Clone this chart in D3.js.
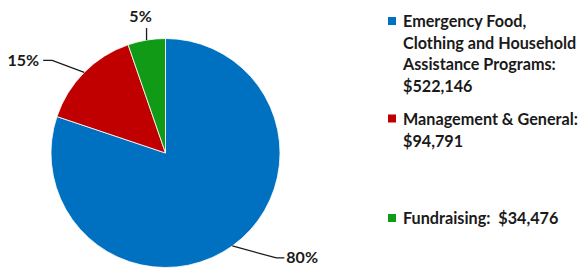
<!DOCTYPE html>
<html><head><meta charset="utf-8">
<script src="https://cdn.jsdelivr.net/npm/d3@7"></script>
<style>body{margin:0;background:#fff}svg{display:block}</style>
</head><body>
<svg id="c" width="587" height="270"></svg>
<script>
const categories = ["Emergency Food, Clothing and Household Assistance Programs", "Management & General", "Fundraising"];
const values = [522146, 94791, 34476];
const percentLabels = ["80%", "15%", "5%"];
const legendLines = [
  ["Emergency Food,", "Clothing and Household", "Assistance Programs:", "$522,146"],
  ["Management & General:", "$94,791"],
  ["Fundraising:  $34,476"]
];
const colors = ["#0070C0", "#C00000", "#119A15"];

const svg = d3.select("#c");
const cx = 165.5, cy = 153, R = 114.5;
const g = svg.append("g").attr("transform", `translate(${cx},${cy})`);
const pie = d3.pie().sort(null).value(d => d)(values);
const arc = d3.arc().innerRadius(0).outerRadius(R);
g.selectAll("path").data(pie).join("path")
  .attr("d", arc).attr("fill", (d, i) => colors[i])
  .attr("stroke", "#fff").attr("stroke-width", 0.8);

const txt = "#1a1a1a";
const font = "Lato, 'Open Sans', sans-serif";
// leader lines + labels
pie.forEach((d, i) => {
  const a = (d.startAngle + d.endAngle) / 2;
  const p0 = [Math.sin(a) * R, -Math.cos(a) * R];
  let pts, tx, ty, anchor;
  if (i === 0) { pts = [p0, [p0[0] + 44, p0[1] + 12], [p0[0] + 52, p0[1] + 12]]; tx = p0[0] + 54; ty = p0[1] + 17.5; anchor = "start"; }
  else if (i === 1) { pts = [p0, [p0[0] - 32, p0[1] - 12], [p0[0] - 41, p0[1] - 12]]; tx = p0[0] - 45; ty = p0[1] - 6.5; anchor = "end"; }
  else { pts = [p0, [p0[0], p0[1] - 12]]; tx = p0[0] - 6; ty = p0[1] - 18.5; anchor = "middle"; }
  g.append("path").attr("d", d3.line()(pts)).attr("fill", "none").attr("stroke", txt).attr("stroke-width", 1.3);
  g.append("text").attr("x", tx).attr("y", ty).attr("text-anchor", anchor)
    .attr("font-family", font).attr("font-weight", 700).attr("font-size", 16).attr("fill", txt)
    .text(percentLabels[i]);
});

// legend
const legendTop = [27, 124.5, 224];
legendLines.forEach((lines, i) => {
  const lg = svg.append("g");
  lg.append("rect").attr("x", 388).attr("y", legendTop[i] - 10).attr("width", 8).attr("height", 8).attr("fill", colors[i]);
  lines.forEach((t, j) => {
    lg.append("text").attr("x", 403).attr("y", legendTop[i] + j * (i === 1 ? 22.5 : 21.5))
      .attr("font-family", font).attr("font-weight", 700).attr("font-size", 16.2).attr("fill", txt)
      .attr("xml:space", "preserve").style("white-space", "pre").text(t);
  });
});
</script>
</body></html>
